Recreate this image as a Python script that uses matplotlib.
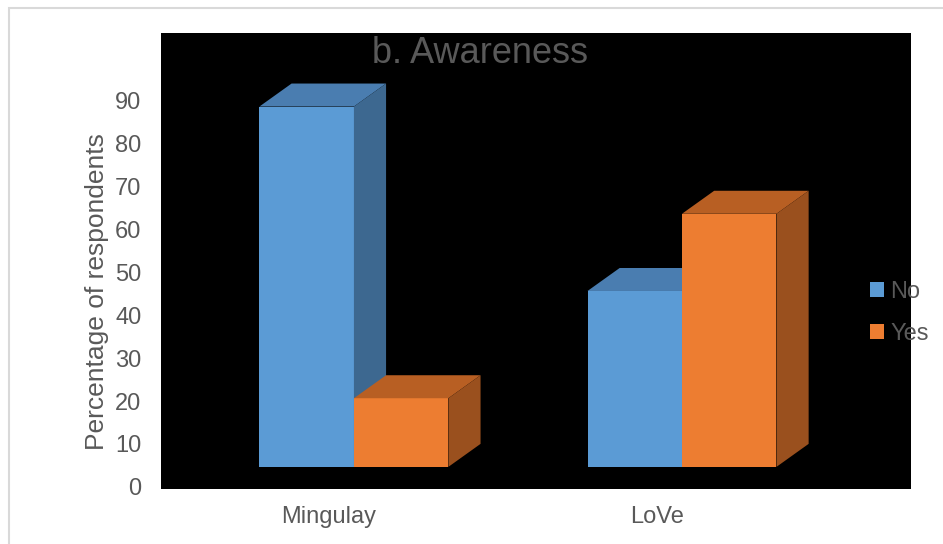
import matplotlib.pyplot as plt
from matplotlib.patches import Polygon, Patch, Rectangle

plt.rcParams['font.family'] = ['Liberation Sans', 'DejaVu Sans']

sites = ['Mingulay', 'LoVe']
answers = ['No', 'Yes']
no_pct = [84, 41]
yes_pct = [16, 59]
yticks = [0, 10, 20, 30, 40, 50, 60, 70, 80, 90]

front = {'No': '#5b9bd5', 'Yes': '#ed7d31'}
top = {'No': '#4a7db0', 'Yes': '#b85f23'}
side = {'No': '#3d6890', 'Yes': '#9a501e'}

W, H = 943, 544
fig = plt.figure(figsize=(W / 100, H / 100), dpi=100)
ax = fig.add_axes([161 / W, (H - 489) / H, 750 / W, 456 / H])
ax.set_facecolor('black')

# pseudo 3d geometry (data units)
floor = 4.66      # front face sits above the axis zero
dx, dy = 0.098, 5.36
width = 0.288
shift = 0.076

def box(x0, val, name):
    y0, y1 = floor, floor + val
    x1 = x0 + width
    ax.add_patch(Polygon([(x0, y0), (x1, y0), (x1, y1), (x0, y1)], closed=True,
                         facecolor=front[name], edgecolor='none'))
    ax.add_patch(Polygon([(x0, y1), (x1, y1), (x1 + dx, y1 + dy), (x0 + dx, y1 + dy)],
                         closed=True, facecolor=top[name], edgecolor='none'))
    ax.add_patch(Polygon([(x1, y0), (x1 + dx, y0 + dy), (x1 + dx, y1 + dy), (x1, y1)],
                         closed=True, facecolor=side[name], edgecolor='none'))

for i, site in enumerate(sites):
    c = i + shift
    box(c - width, no_pct[i], 'No')
    box(c, yes_pct[i], 'Yes')

ax.set_xlim(-0.512, 1.774)
ax.set_ylim(-0.5, 105.8)
ax.set_xticks(range(len(sites)))
ax.set_xticklabels(sites)
ax.set_yticks(yticks)
for s in ax.spines.values():
    s.set_visible(False)
ax.tick_params(length=0, labelsize=17, colors='#595959', pad=14)
ax.tick_params(axis='x', pad=12)
ax.set_ylabel('Percentage of respondents', fontsize=19, color='#595959')
ax.yaxis.set_label_coords(-0.069, 0.432)

ax.text(0.425, 0.955, 'b. Awareness', transform=ax.transAxes, ha='center', va='center',
        fontsize=26, color='#595959')

handles = [Patch(facecolor=front[a], edgecolor='none') for a in answers]
fig.legend(handles, answers, loc='center left', bbox_to_anchor=(849 / W, 1 - 313 / H),
           frameon=False, fontsize=17, handlelength=0.6, handleheight=0.6,
           handletextpad=0.25, labelspacing=0.85, labelcolor='#595959')

# outer chart frame (top and left edges visible)
fig.add_artist(Rectangle((8.5 / W, -0.1), 1.0, (H - 8.5) / H + 0.1, transform=fig.transFigure,
                         fill=False, edgecolor='#d9d9d9', linewidth=1.5))

fig.savefig('out.png', dpi=100)
